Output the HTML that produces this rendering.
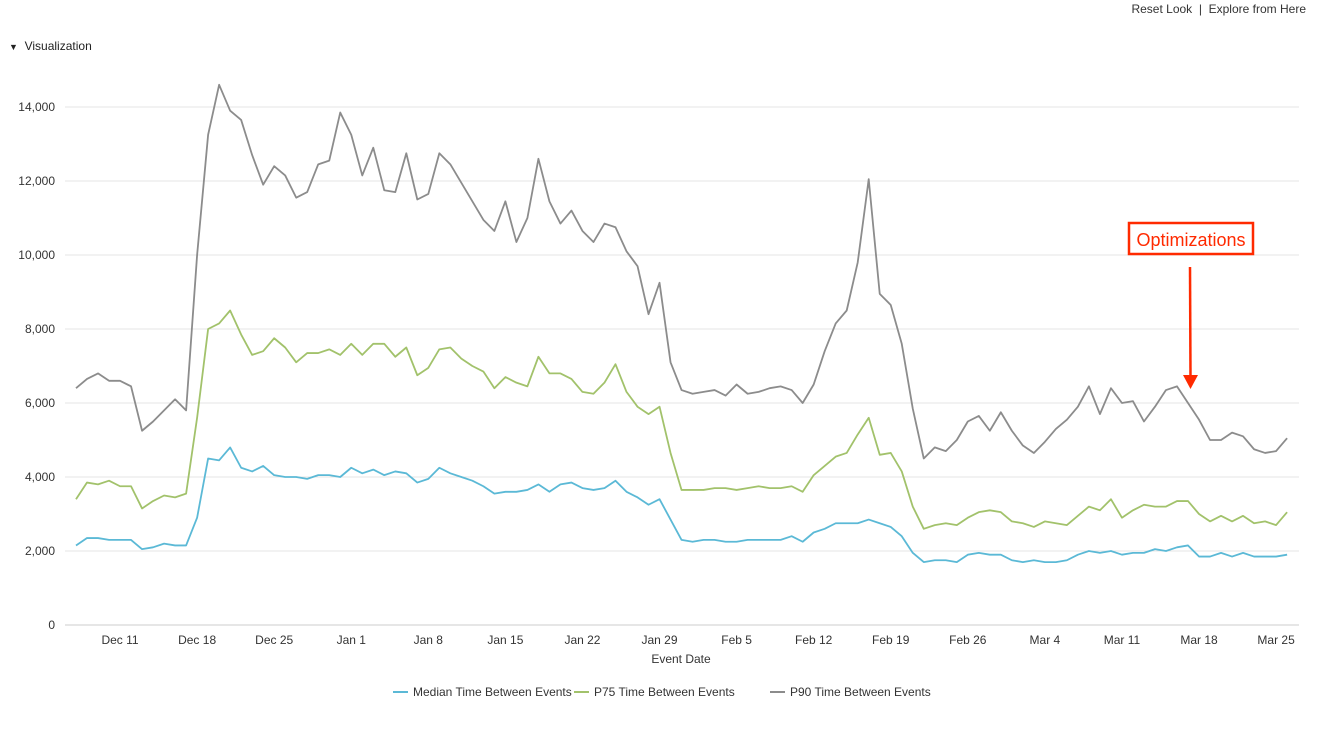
<!DOCTYPE html>
<html><head><meta charset="utf-8">
<style>
body{margin:0;width:1319px;height:733px;background:#fff;font-family:"Liberation Sans",Arial,sans-serif;overflow:hidden;position:relative}
.top{position:absolute;top:2px;right:13px;font-size:12px;color:#333}
.viz{position:absolute;top:39px;left:9px;font-size:12px;color:#222}
svg{position:absolute;left:0;top:0}
</style></head><body>
<div class="top"><span>Reset Look</span> &nbsp;|&nbsp; <span>Explore from Here</span></div>
<div class="viz"><span style="font-size:9px">&#9660;</span>&nbsp; Visualization</div>
<svg id="chart" width="1319" height="733"></svg>
<script>
const yTicks=[0,2000,4000,6000,8000,10000,12000,14000];
const xTickLabels=["Dec 11","Dec 18","Dec 25","Jan 1","Jan 8","Jan 15","Jan 22","Jan 29","Feb 5","Feb 12","Feb 19","Feb 26","Mar 4","Mar 11","Mar 18","Mar 25"];
const xTickIndex=[4,11,18,25,32,39,46,53,60,67,74,81,88,95,102,109];
const p90=[6400,6650,6800,6600,6600,6450,5250,5500,5800,6100,5800,10000,13250,14600,13900,13650,12700,11900,12400,12150,11550,11700,12450,12550,13850,
13250,12150,12900,11750,11700,12750,11500,11650,12750,12450,11950,11450,10950,10650,11450,10350,11000,12600,11450,10850,11200,10650,10350,10850,10750,10100,9700,8400,9250,7100,6350,
6250,6300,6350,6200,6500,6250,6300,6400,6450,6350,6000,6500,7400,8150,8500,9800,12050,8950,8650,7600,5850,4500,4800,4700,5000,5500,5650,5250,5750,
5250,4850,4650,4950,5300,5550,5900,6450,5700,6400,6000,6050,5500,5900,6350,6450,6000,5550,5000,5000,5200,5100,4750,4650,4700,5050];
const p75=[3400,3850,3800,3900,3750,3750,3150,3350,3500,3450,3550,5600,8000,8150,8500,7850,7300,7400,7750,7500,7100,7350,7350,7450,7300,
7600,7300,7600,7600,7250,7500,6750,6950,7450,7500,7200,7000,6850,6400,6700,6550,6450,7250,6800,6800,6650,6300,6250,6550,7050,6300,5900,5700,5900,4650,3650,
3650,3650,3700,3700,3650,3700,3750,3700,3700,3750,3600,4050,4300,4550,4650,5150,5600,4600,4650,4150,3200,2600,2700,2750,2700,2900,3050,3100,3050,
2800,2750,2650,2800,2750,2700,2950,3200,3100,3400,2900,3100,3250,3200,3200,3350,3350,3000,2800,2950,2800,2950,2750,2800,2700,3050];
const median=[2150,2350,2350,2300,2300,2300,2050,2100,2200,2150,2150,2900,4500,4450,4800,4250,4150,4300,4050,4000,4000,3950,4050,4050,4000,
4250,4100,4200,4050,4150,4100,3850,3950,4250,4100,4000,3900,3750,3550,3600,3600,3650,3800,3600,3800,3850,3700,3650,3700,3900,3600,3450,3250,3400,2850,2300,
2250,2300,2300,2250,2250,2300,2300,2300,2300,2400,2250,2500,2600,2750,2750,2750,2850,2750,2650,2400,1950,1700,1750,1750,1700,1900,1950,1900,1900,
1750,1700,1750,1700,1700,1750,1900,2000,1950,2000,1900,1950,1950,2050,2000,2100,2150,1850,1850,1950,1850,1950,1850,1850,1850,1900];
const seriesNames=["Median Time Between Events","P75 Time Between Events","P90 Time Between Events"];
const colors=["#5bb9d6","#a2c26b","#8c8c8c"];

const svg=document.getElementById('chart');const NS="http://www.w3.org/2000/svg";
const L=65,R=1299,Y0=625,Y1=107;
const x=i=>76+i*11.01;
const y=v=>Y0-(v/14000)*(Y0-Y1);
function mk(t,a,p){const e=document.createElementNS(NS,t);for(const k in a)e.setAttribute(k,a[k]);(p||svg).appendChild(e);return e;}
yTicks.forEach(v=>{
  const g=mk('line',{x1:L,x2:R,y1:y(v),y2:y(v),stroke:v===0?'#ccc':'#e4e4e4','stroke-width':1});
  
  
  const t=mk('text',{x:55,y:y(v)+4,'text-anchor':'end','font-size':12,fill:'#333'});
  t.textContent=v.toLocaleString('en-US');
  
  
});
xTickLabels.forEach((s,k)=>{
  const t=mk('text',{x:x(xTickIndex[k]),y:644,'text-anchor':'middle','font-size':12,fill:'#333'});
  t.textContent=s;
  
  
});
const xt=mk('text',{x:681,y:663,'text-anchor':'middle','font-size':12,fill:'#333'});xt.textContent='Event Date';


[median,p75,p90].forEach((d,s)=>{
  const p=mk('polyline',{points:d.map((v,i)=>x(i)+','+y(v)).join(' '),fill:'none',stroke:colors[s],'stroke-width':1.8,'stroke-linejoin':'round'});
  
  
});
const lx=[393,574,770];
seriesNames.forEach((n,s)=>{
  const g=mk('g',{});
  
  
  mk('line',{x1:lx[s],x2:lx[s]+15,y1:692,y2:692,stroke:colors[s],'stroke-width':2},g);
  const t=mk('text',{x:lx[s]+20,y:696,'font-size':12,fill:'#333'},g);t.textContent=n;
});
const ag=mk('g',{});


mk('rect',{x:1129,y:223,width:124,height:31,fill:'#fff',stroke:'#ff2a00','stroke-width':2.5},ag);
const at=mk('text',{x:1191,y:246,'text-anchor':'middle','font-size':18,fill:'#ff2a00'},ag);at.textContent='Optimizations';
mk('line',{x1:1190,x2:1190.5,y1:267,y2:378,stroke:'#ff2a00','stroke-width':2.5},ag);
mk('polygon',{points:'1183,375 1198,375 1190.5,389',fill:'#ff2a00'},ag);
</script>
</body></html>
